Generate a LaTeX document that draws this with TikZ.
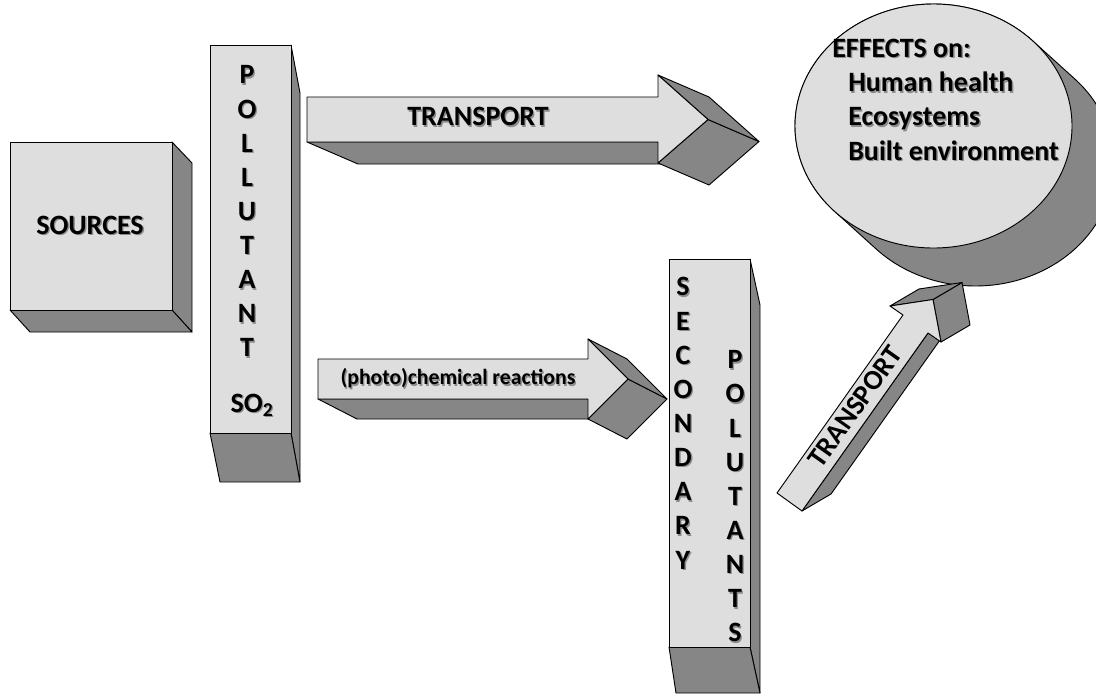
\documentclass[tikz,border=0pt]{standalone}
\usepackage{fontspec}
\setmainfont{Carlito}
\definecolor{lightface}{RGB}{222,222,222}
\definecolor{darkface}{RGB}{134,134,134}
\newcommand\shd[1]{\makebox[0pt][l]{\hspace{1pt}\raisebox{-1pt}{\textcolor{black!45}{#1}}}#1}
\begin{document}
\begin{tikzpicture}[x=0.75pt,y=-0.75pt,
  face/.style={draw=black, line width=0.7pt, line join=round},
  front/.style={face, fill=lightface},
  side/.style={face, fill=darkface},
  lbl/.style={inner sep=0pt, font=\bfseries\fontsize{21}{25.6}\selectfont},
  stack/.style={lbl, align=center}]
\useasboundingbox (0,0) rectangle (1096,693);
\clip (0,0) rectangle (1096,693);

% SOURCES box
\draw[side] (172,142) -- (192,163) -- (192,332) -- (172,310) -- cycle;
\draw[side] (10,310) -- (30,332) -- (192,332) -- (172,310) -- cycle;
\draw[front] (10,142) rectangle (172,310);
\node[lbl] (sources) at (90,226) {\shd{SOURCES}};

% POLLUTANT bar
\draw[side] (291,45) -- (300,93) -- (300,482) -- (291,433) -- cycle;
\draw[side] (210,433) -- (220,482) -- (300,482) -- (291,433) -- cycle;
\draw[front] (210,45) rectangle (291,433);
\node[stack] (pollutant) at (247,212) {\shd{P}\\\shd{O}\\\shd{L}\\\shd{L}\\\shd{U}\\\shd{T}\\\shd{A}\\\shd{N}\\\shd{T}};
\node[lbl, anchor=base] (so2) at (252,412) {\shd{SO\textsubscript{2}}};

% top TRANSPORT arrow
\draw[side] (307,142) -- (358,164) -- (709,164) -- (658,142) -- cycle;
\draw[side] (708,119.5) -- (759,141.5) -- (709,185) -- (658,163) -- cycle;
\draw[side] (658,75) -- (709,97) -- (759,141.5) -- (708,119.5) -- cycle;
\draw[front] (307,97) -- (658,97) -- (658,75) -- (708,119.5) -- (658,163) -- (658,142) -- (307,142) -- cycle;
\node[lbl] (transport1) at (478,117.5) {\shd{TRANSPORT}};

% (photo)chemical reactions arrow
\draw[side] (318,399) -- (357,419) -- (627,419) -- (588,399) -- cycle;
\draw[side] (628,379) -- (667,399) -- (627,439) -- (588,419) -- cycle;
\draw[side] (588,339) -- (627,359) -- (667,399) -- (628,379) -- cycle;
\draw[front] (318,359) -- (588,359) -- (588,339) -- (628,379) -- (588,419) -- (588,399) -- (318,399) -- cycle;
\node[lbl, font=\bfseries\fontsize{16.3}{19.6}\selectfont] (reactions) at (458,379) {\shd{(photo)chemical reactions}};

% SECONDARY POLUTANTS bar
\draw[side] (750,259) -- (760,305) -- (760,693) -- (750,647) -- cycle;
\draw[side] (669,647) -- (676,693) -- (760,693) -- (750,647) -- cycle;
\draw[front] (669,259) rectangle (750,647);
\node[stack] (secondary) at (683,424) {\shd{S}\\\shd{E}\\\shd{C}\\\shd{O}\\\shd{N}\\\shd{D}\\\shd{A}\\\shd{R}\\\shd{Y}};
\node[stack] (polutants) at (735,497) {\shd{P}\\\shd{O}\\\shd{L}\\\shd{U}\\\shd{T}\\\shd{A}\\\shd{N}\\\shd{T}\\\shd{S}};

% EFFECTS cylinder
\draw[side] plot[domain=135.77:315.77, samples=90] ({933.5+138.5*cos(\x)},{126+122*sin(\x)})
  -- plot[domain=-44.23:135.77, samples=90] ({975.5+138.5*cos(\x)},{164+122*sin(\x)}) -- cycle;
\draw[front] (933.5,126) ellipse [x radius=138.5, y radius=122];
\node[lbl, align=left, anchor=north west] (effects) at (832,39)
  {\shd{EFFECTS on:}\\\hspace*{12pt}\shd{Human health}\\\hspace*{12pt}\shd{Ecosystems}\\\hspace*{12pt}\shd{Built environment}};

% diagonal TRANSPORT arrow
\draw[side] (802,511) -- (831,494) -- (957,316) -- (928,333) -- cycle;
\draw[side] (933,299.5) -- (962,282.5) -- (970,325) -- (941,342) -- cycle;
\draw[side] (890,306) -- (919,289) -- (962,282.5) -- (933,299.5) -- cycle;
\draw[front] (777,493) -- (903,315) -- (890,306) -- (933,299.5) -- (941,342) -- (928,333) -- (802,511) -- cycle;
\node[lbl, rotate=54.7] (transport2) at (855,407) {TRANSPORT};
\end{tikzpicture}
\end{document}
